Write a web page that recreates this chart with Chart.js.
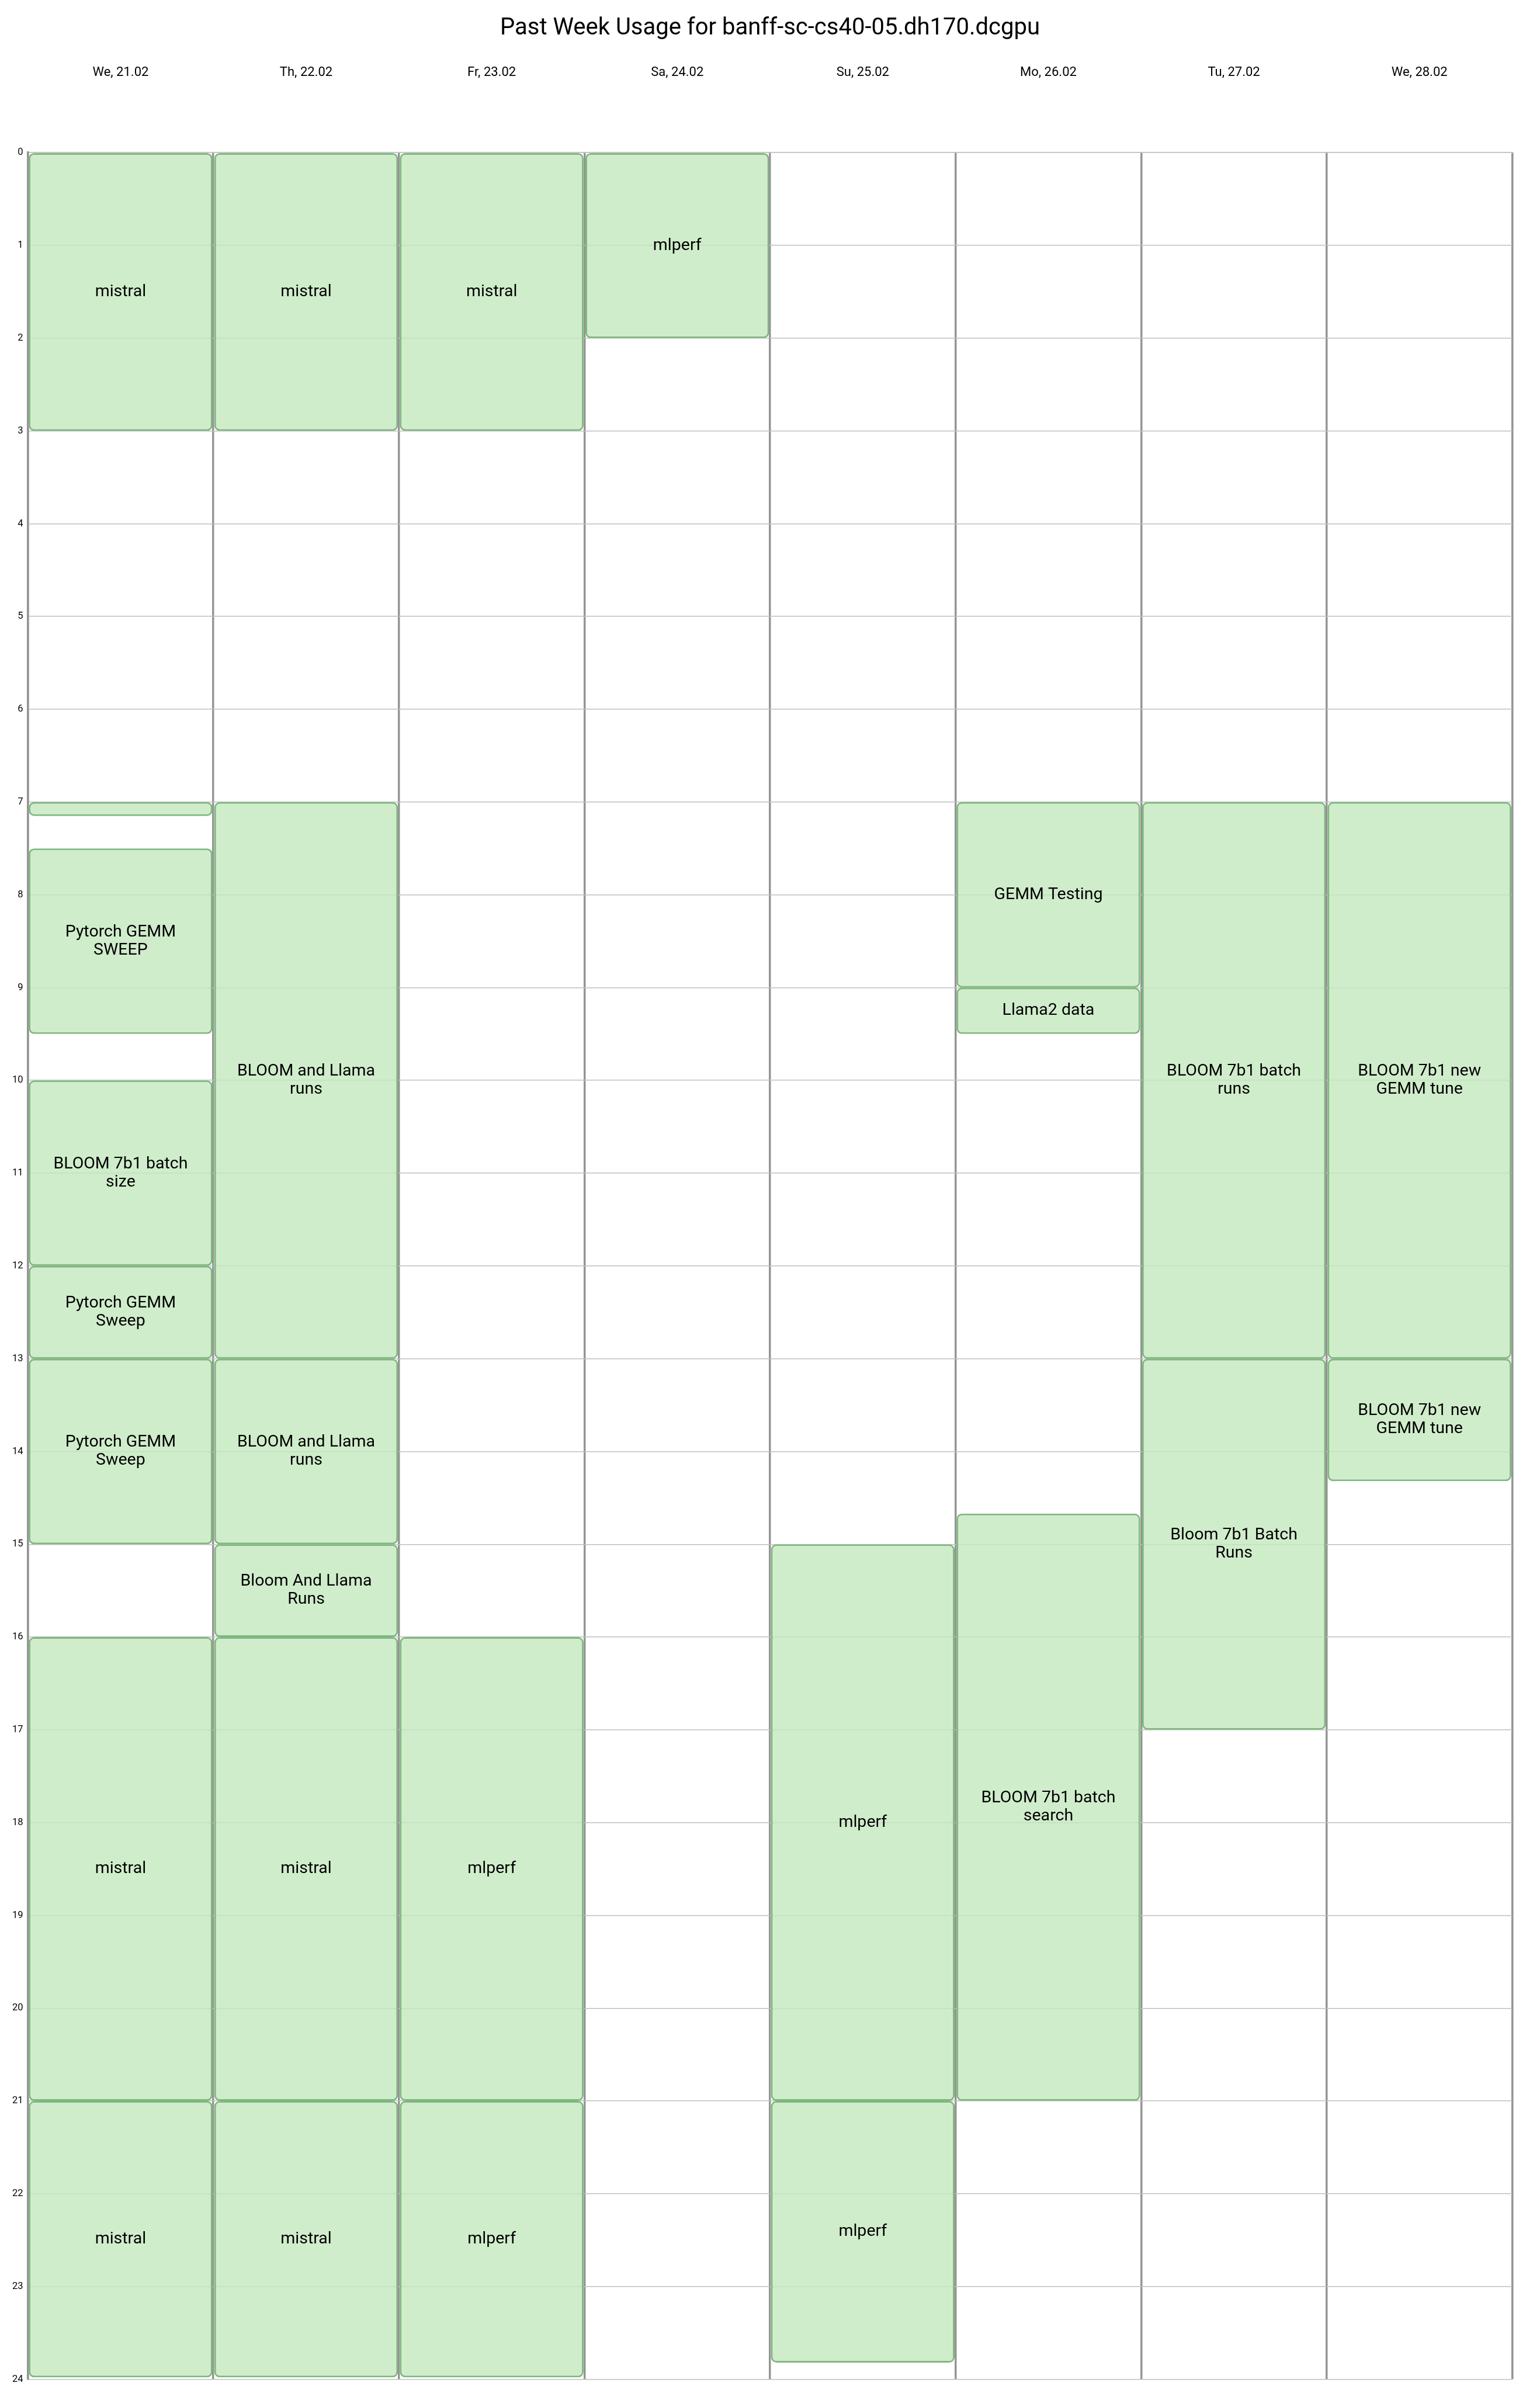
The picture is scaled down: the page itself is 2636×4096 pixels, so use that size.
<!DOCTYPE html>
<html>
<head>
<meta charset="utf-8">
<script src="https://cdn.jsdelivr.net/npm/chart.js@4.4.1/dist/chart.umd.min.js"></script>
<style>
html,body{margin:0;padding:0;background:#fff;}
canvas{display:block;}
</style>
</head>
<body>
<canvas id="c" width="2636" height="4096"></canvas>
<script>
const chartTitle = 'Past Week Usage for banff-sc-cs40-05.dh170.dcgpu';
const days = ['We, 21.02','Th, 22.02','Fr, 23.02','Sa, 24.02','Su, 25.02','Mo, 26.02','Tu, 27.02','We, 28.02'];

// sessions per day: [start hour, end hour, job name]
const we21 = [[0,3,'mistral'],[7,7.15,''],[7.5,9.5,'Pytorch GEMM\nSWEEP'],[10,12,'BLOOM 7b1 batch\nsize'],[12,13,'Pytorch GEMM\nSweep'],[13,15,'Pytorch GEMM\nSweep'],[16,21,'mistral'],[21,23.98,'mistral']];
const th22 = [[0,3,'mistral'],[7,13,'BLOOM and Llama\nruns'],[13,15,'BLOOM and Llama\nruns'],[15,16,'Bloom And Llama\nRuns'],[16,21,'mistral'],[21,23.98,'mistral']];
const fr23 = [[0,3,'mistral'],[16,21,'mlperf'],[21,23.98,'mlperf']];
const sa24 = [[0,2,'mlperf']];
const su25 = [[15,21,'mlperf'],[21,23.82,'mlperf']];
const mo26 = [[7,9,'GEMM Testing'],[9,9.5,'Llama2 data'],[14.67,21,'BLOOM 7b1 batch\nsearch']];
const tu27 = [[7,13,'BLOOM 7b1 batch\nruns'],[13,17,'Bloom 7b1 Batch\nRuns']];
const we28 = [[7,13,'BLOOM 7b1 new\nGEMM tune'],[13,14.32,'BLOOM 7b1 new\nGEMM tune']];

const week = [we21, th22, fr23, sa24, su25, mo26, tu27, we28];
const slotCount = Math.max(...week.map(d => d.length));

const datasets = [];
for (let k = 0; k < slotCount; k++) {
  datasets.push({
    label: 'slot ' + k,
    yAxisID: 'y',
    data: week.map(d => d[k] ? [d[k][0], d[k][1]] : null),
    names: week.map(d => d[k] ? d[k][2] : null),
    backgroundColor: 'rgba(196,233,190,0.8)',
    borderColor: 'rgb(128,184,128)',
    borderWidth: 3,
    borderRadius: 9,
    borderSkipped: false,
    grouped: false,
    categoryPercentage: 1,
    barPercentage: 0.99
  });
}

const jobLabels = {
  id: 'jobLabels',
  afterDatasetsDraw(chart) {
    const ctx = chart.ctx;
    ctx.save();
    ctx.font = '28.5px Roboto';
    ctx.fillStyle = '#000';
    ctx.textAlign = 'center';
    ctx.textBaseline = 'middle';
    chart.data.datasets.forEach((ds, di) => {
      const meta = chart.getDatasetMeta(di);
      meta.data.forEach((bar, i) => {
        const name = ds.names[i];
        if (!name || ds.data[i] == null) return;
        const p = bar.getProps(['x', 'y', 'base'], true);
        const lines = name.split('\n');
        const cy = (p.y + p.base) / 2;
        const lh = 31;
        lines.forEach((ln, j) => ctx.fillText(ln, p.x, cy + (j - (lines.length - 1) / 2) * lh));
      });
    });
    ctx.restore();
  }
};

const TITLE_PAD_TOP = 25;
const TITLE_SIZE = 40;
const PLOT_TOP = 261.2;
const PLOT_LEFT = 47.6;
const PLOT_RIGHT_GAP = 47.5;

new Chart(document.getElementById('c'), {
  type: 'bar',
  data: { labels: days, datasets: datasets },
  plugins: [jobLabels],
  options: {
    responsive: false,
    maintainAspectRatio: false,
    devicePixelRatio: 1,
    animation: false,
    layout: { padding: { left: 0, right: 0, top: 0, bottom: 23.5 } },
    plugins: {
      legend: { display: false },
      tooltip: { enabled: false },
      title: {
        display: true,
        text: chartTitle,
        color: '#000',
        font: { family: 'Roboto', size: TITLE_SIZE, weight: 'normal', lineHeight: 1.2 },
        padding: { top: TITLE_PAD_TOP, bottom: 0 }
      }
    },
    scales: {
      x: {
        type: 'category',
        position: 'top',
        offset: true,
        grid: { offset: true, color: '#959595', lineWidth: 3.5, drawTicks: false },
        border: { display: true, color: '#c0c0c0', width: 1.5 },
        ticks: { color: '#000', font: { family: 'Roboto', size: 22 }, padding: 124, maxRotation: 0 },
        afterFit(s) { s.height = PLOT_TOP - (TITLE_PAD_TOP + TITLE_SIZE * 1.2); }
      },
      y: {
        type: 'linear',
        position: 'left',
        reverse: true,
        min: 0,
        max: 24,
        grid: { color: '#c0c0c0', lineWidth: 1.5, drawTicks: false },
        border: { display: true, color: '#959595', width: 3.5 },
        ticks: { stepSize: 1, color: '#000', font: { family: 'Roboto', size: 16.5 }, padding: 8 },
        afterFit(s) { s.width = PLOT_LEFT; }
      },
      yRight: {
        type: 'linear',
        position: 'right',
        min: 0,
        max: 24,
        grid: { display: false, drawTicks: false },
        border: { display: false },
        ticks: { display: false },
        afterFit(s) { s.width = PLOT_RIGHT_GAP; }
      }
    }
  }
});
</script>
</body>
</html>
